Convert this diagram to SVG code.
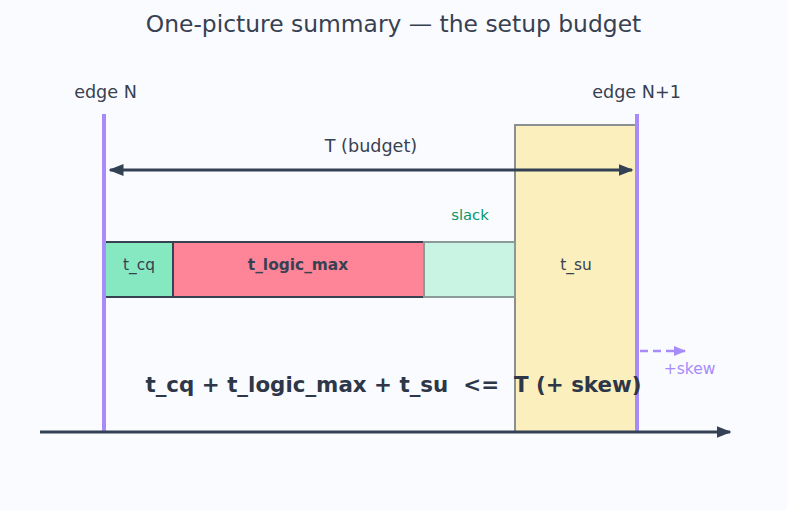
<svg xmlns="http://www.w3.org/2000/svg" width="787" height="510" viewBox="0 0 787 510">
<defs>
<style>
text{font-family:"DejaVu Sans","Noto Sans",sans-serif;fill:#374151}
.lbl{font-size:17.6px}
.box{font-size:15.4px}
.edge{stroke:#a78bfa;stroke-width:4}
.dark{stroke:#334155;stroke-width:3;fill:none}
</style>
<marker id="ah" viewBox="0 0 10 10" refX="9" refY="5" markerWidth="5" markerHeight="5" orient="auto-start-reverse" markerUnits="strokeWidth"><path d="M0,1 L10,5 L0,9 Z" fill="#334155"/></marker>
<marker id="ahp" viewBox="0 0 10 10" refX="9" refY="5" markerWidth="5" markerHeight="5" orient="auto" markerUnits="strokeWidth"><path d="M0,1 L10,5 L0,9 Z" fill="#a78bfa"/></marker>
</defs>
<rect width="787" height="510" fill="#fafbfe"/>
<text x="393.5" y="32" text-anchor="middle" font-size="23.4">One-picture summary — the setup budget</text>
<g id="t_su"><rect x="515" y="125" width="122" height="307" fill="#fcefbe" stroke="#8a8f94" stroke-width="2"/><text class="box" x="576" y="270" text-anchor="middle">t_su</text></g>
<g id="t_cq"><rect x="104" y="242" width="69" height="55" fill="#86e8c1" stroke="#374151" stroke-width="2"/><text class="box" x="139" y="270" text-anchor="middle">t_cq</text></g>
<g id="t_logic_max"><rect x="173" y="242" width="251" height="55" fill="#fe8598" stroke="#374151" stroke-width="2"/><text class="box" x="298" y="270" text-anchor="middle" font-weight="bold">t_logic_max</text></g>
<g id="slack"><rect x="424" y="242" width="91" height="55" fill="#c9f3e2" stroke="#8a9a96" stroke-width="2"/><text x="470" y="220" text-anchor="middle" font-size="14.8" style="fill:#059669">slack</text></g>
<g id="edgeN"><line class="edge" x1="104" y1="114" x2="104" y2="433"/><text class="lbl" x="105.5" y="98" text-anchor="middle">edge N</text></g>
<g id="edgeN1"><line class="edge" x1="637" y1="114" x2="637" y2="433"/><text class="lbl" x="636.5" y="98" text-anchor="middle">edge N+1</text></g>
<g id="connectors">
<line class="dark" x1="110" y1="170" x2="632" y2="170" marker-start="url(#ah)" marker-end="url(#ah)"/>
<line class="dark" x1="40" y1="432" x2="730" y2="432" stroke-width="3.5" marker-end="url(#ah)"/>
<line x1="640" y1="351" x2="685" y2="351" stroke="#a78bfa" stroke-width="2.5" stroke-dasharray="8,5" marker-end="url(#ahp)"/>
</g>
<text class="lbl" x="371" y="152" text-anchor="middle">T (budget)</text>
<text x="689.5" y="374" text-anchor="middle" font-size="15.5" style="fill:#a78bfa">+skew</text>
<text x="393.5" y="392" text-anchor="middle" font-size="21.4" font-weight="bold" xml:space="preserve" style="white-space:pre;fill:#2d3748">t_cq + t_logic_max + t_su  &lt;=  T (+ skew)</text>
</svg>
